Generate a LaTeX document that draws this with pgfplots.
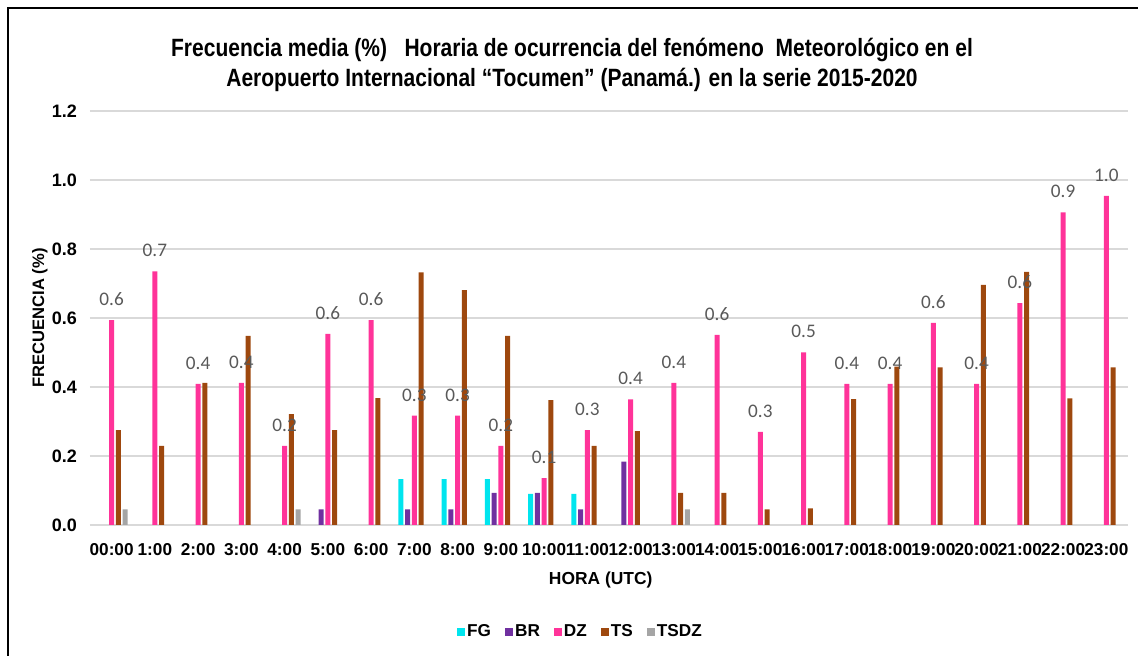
\documentclass[border=0pt]{standalone}
\usepackage{fontspec}
\setmainfont{Liberation Sans}
\newfontfamily\calibri{Carlito}
\newfontfamily\titlefont{Liberation Sans}[FakeStretch=0.84]
\usepackage{pgfplots}
\pgfplotsset{compat=1.18}
\definecolor{cFG}{HTML}{00E5EE}
\definecolor{cBR}{HTML}{7030A0}
\definecolor{cDZ}{HTML}{FF3399}
\definecolor{cTS}{HTML}{9E480E}
\definecolor{cTSDZ}{HTML}{A5A5A5}
\definecolor{gridc}{HTML}{D9D9D9}
\definecolor{lblc}{HTML}{595959}

\begin{document}
\begin{tikzpicture}
\begin{axis}[
  name=ax,
  at={(0,0)}, anchor=south west,
  scale only axis,
  width=519pt, height=207pt,
  ybar=0.85pt,
  bar width=2.5pt,
  xmin=-0.5, xmax=23.5,
  ymin=0, ymax=1.2,
  ytick={0,0.2,...,1.2},
  xtick={0,...,23},
  xticklabels={00:00,1:00,2:00,3:00,4:00,5:00,6:00,7:00,8:00,9:00,10:00,11:00,12:00,13:00,14:00,15:00,16:00,17:00,18:00,19:00,20:00,21:00,22:00,23:00},
  axis line style={draw=none},
  major tick length=0pt,
  ymajorgrids,
  major grid style={draw=gridc, line width=0.6pt},
  /pgf/number format/assume math mode=true,
  yticklabel style={xshift=-3pt, font=\bfseries\fontsize{9}{10}\selectfont, /pgf/number format/.cd, fixed, fixed zerofill, precision=1},
  xticklabel style={font=\bfseries\fontsize{8.6}{10}\selectfont, yshift=-5.5pt},
  xlabel={HORA (UTC)},
  xlabel style={font=\bfseries\fontsize{8.7}{10}\selectfont, at={(axis description cs:0.492,-0.133)}, anchor=center},
  ylabel={FRECUENCIA (\%)},
  ylabel style={font=\bfseries\fontsize{8.3}{10}\selectfont, at={(axis description cs:-0.0483,0.5)}, anchor=center},
  legend image code/.code={\fill[#1,draw=none] (0pt,-2pt) rectangle (4pt,2pt);},
  legend style={at={(axis description cs:0.4735,-0.2585)}, anchor=center,
    legend columns=-1, draw=none, font=\bfseries\fontsize{8.6}{10}\selectfont,
    /tikz/every even column/.append style={column sep=5pt},
    /tikz/every odd column/.append style={column sep=-1pt}},
]
% FG
\addplot[fill=cFG, draw=none] coordinates {
  (7,0.133) (8,0.133) (9,0.133) (10,0.09) (11,0.09)};
% BR
\addplot[fill=cBR, draw=none] coordinates {
  (5,0.045) (7,0.045) (8,0.045) (9,0.093) (10,0.093) (11,0.045) (12,0.184)};
% DZ
\addplot[fill=cDZ, draw=none] coordinates {
  (0,0.594) (1,0.735) (2,0.409) (3,0.412) (4,0.229) (5,0.554)
  (6,0.594) (7,0.317) (8,0.317) (9,0.229) (10,0.136) (11,0.275)
  (12,0.364) (13,0.412) (14,0.551) (15,0.270) (16,0.500) (17,0.409)
  (18,0.409) (19,0.586) (20,0.409) (21,0.643) (22,0.906) (23,0.954)};
% TS
\addplot[fill=cTS, draw=none] coordinates {
  (0,0.275) (1,0.229) (2,0.412) (3,0.548) (4,0.321) (5,0.275)
  (6,0.368) (7,0.732) (8,0.681) (9,0.548) (10,0.362) (11,0.229)
  (12,0.272) (13,0.093) (14,0.093) (15,0.045) (16,0.048) (17,0.365)
  (18,0.459) (19,0.457) (20,0.696) (21,0.734) (22,0.367) (23,0.457)};
% TSDZ
\addplot[fill=cTSDZ, draw=none] coordinates {
  (0,0.045) (4,0.045) (13,0.045)};
\legend{FG,BR,DZ,TS,TSDZ}
% data labels of DZ, drawn last so they sit over the bars
\addplot[fill=none, draw=none, bar shift=0pt, forget plot,
  nodes near coords,
  nodes near coords style={font=\calibri\fontsize{9.6}{11}\selectfont, text=lblc,
    anchor=south, inner sep=0pt, yshift=7pt,
    /pgf/number format/.cd, fixed, fixed zerofill, precision=1}]
  coordinates {
  (0,0.594) (1,0.735) (2,0.409) (3,0.412) (4,0.229) (5,0.554)
  (6,0.594) (7,0.317) (8,0.317) (9,0.229) (10,0.136) (11,0.275)
  (12,0.364) (13,0.412) (14,0.551) (15,0.270) (16,0.500) (17,0.409)
  (18,0.409) (19,0.586) (20,0.409) (21,0.643) (22,0.906) (23,0.954)};
\end{axis}
% title
\node[align=center, font=\titlefont\bfseries\fontsize{12.5}{15}\selectfont]
  at ([xshift=241pt,yshift=23pt]ax.north west)
  {Frecuencia media (\%)\ \ \ Horaria de ocurrencia del fenómeno\ \ Meteorológico en el\\
   Aeropuerto Internacional “Tocumen” (Panamá.) en la serie 2015-2020};
% frame and page size
\path[use as bounding box] ([xshift=-45pt,yshift=-65.5pt]ax.south west) rectangle ([xshift=524pt,yshift=262.5pt]ax.south west);
\draw[line width=1.3pt] ([xshift=-41pt,yshift=-65.5pt]ax.south west) -- ([xshift=-41pt,yshift=258.5pt]ax.south west) -- ([xshift=524pt,yshift=258.5pt]ax.south west);
\end{tikzpicture}
\end{document}
